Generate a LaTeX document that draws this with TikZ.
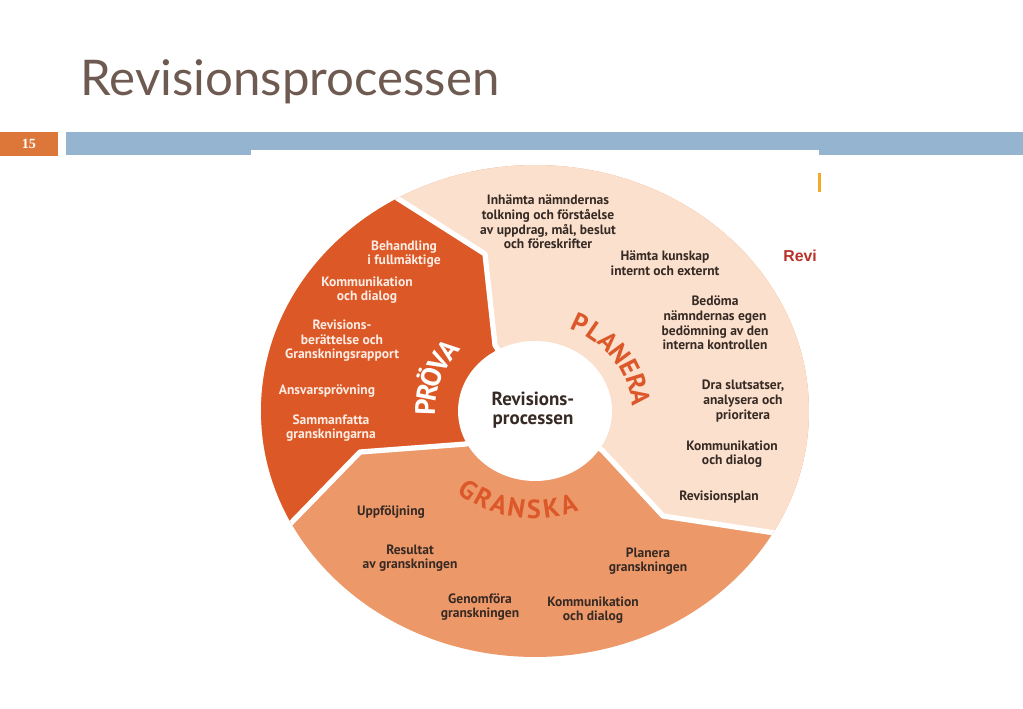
\documentclass[tikz,border=0pt]{standalone}
\usepackage{fontspec}
\setmainfont{Lato}
\newfontfamily\diag{PT Sans}
\newfontfamily\numfont{Liberation Serif}
\newfontfamily\arial{Liberation Sans}
\usepackage{tikz}
\usetikzlibrary{calc}
\definecolor{titlebrown}{RGB}{110,90,80}
\definecolor{numorange}{RGB}{221,119,57}
\definecolor{barblue}{RGB}{148,180,208}
\definecolor{prova}{RGB}{220,88,38}
\definecolor{granska}{RGB}{236,152,104}
\definecolor{planera}{RGB}{250,224,205}
\definecolor{lblred}{RGB}{220,88,42}
\definecolor{dark}{RGB}{55,42,36}
\definecolor{provatext}{RGB}{252,236,228}
\definecolor{revired}{RGB}{184,50,42}
\definecolor{tick}{RGB}{240,172,40}
\tikzstyle{txt}     = [align=center, inner sep=0pt, text=dark, font=\diag\bfseries\fontsize{7.7}{8.3}\selectfont]
\tikzstyle{wtxt}    = [txt, text=provatext]
\tikzstyle{divider} = [draw=white, line width=3pt, line join=round]
\tikzstyle{letter}  = [inner sep=0pt, anchor=base, text=lblred, font=\diag\bfseries\fontsize{15}{15}\selectfont]
\tikzstyle{wletter} = [letter, text=white, font=\diag\bfseries\fontsize{16}{16}\selectfont]

\begin{document}
\begin{tikzpicture}[x=0.02cm, y=0.02cm]
\useasboundingbox (0,0) rectangle (1023,708);

% header
\node [anchor=base west, inner sep=0pt, text=titlebrown, font=\fontsize{28}{28}\selectfont] at (80,613) (title) {Revisionsprocessen};
\fill [numorange] (0,552) rectangle (58,576);
\node [text=white, font=\numfont\bfseries\fontsize{8}{8}\selectfont] at (29,564) (num) {15};
\fill [barblue] (66,553) rectangle (1023,576);
\fill [white] (251,48) rectangle (819,558);
\fill [tick] (818,516) rectangle (820.5,535);
\node [anchor=base west, inner sep=0pt, text=revired, font=\arial\bfseries\fontsize{9}{9}\selectfont] at (783,447) (revi) {Revi};

% ring points
\coordinate (C)      at (535,297);
\coordinate (pvExt)  at (309,566);
\coordinate (pvTop)  at (397,510);
\coordinate (pvKink) at (485,454);
\coordinate (pvIn)   at (495,363);
\coordinate (gpIn)   at (466,264);
\coordinate (gpKink) at (360,256);
\coordinate (gpOut)  at (292,186);
\coordinate (gpExt)  at (224,116);
\coordinate (plIn)   at (602,258);
\coordinate (plKink) at (663,192);
\coordinate (plOut)  at (775,175);
\coordinate (plExt)  at (887,158);

% ring
\begin{scope}
\clip (C) ellipse [x radius=5.48cm, y radius=4.92cm];
\fill [granska] (150,40) rectangle (900,650);
\fill [prova]   (pvExt) -- (pvTop) -- (pvKink) -- (pvIn) -- (C) -- (gpIn) -- (gpKink) -- (gpOut) -- (gpExt) -- (150,116) -- (150,566) -- cycle;
\fill [planera] (pvExt) -- (pvTop) -- (pvKink) -- (pvIn) -- (C) -- (plIn) -- (plKink) -- (plOut) -- (plExt) -- (900,650) -- (309,650) -- cycle;
\draw [divider] (pvExt) -- (pvTop) -- (pvKink) -- (pvIn) -- (C);
\draw [divider] (C) -- (gpIn) -- (gpKink) -- (gpOut) -- (gpExt);
\draw [divider] (C) -- (plIn) -- (plKink) -- (plOut) -- (plExt);
\end{scope}
\fill [white] (C) ellipse [x radius=1.54cm, y radius=1.40cm];
\node [txt, font=\diag\bfseries\fontsize{10.8}{11}\selectfont] at (533,298) (centre) {Revisions-\\processen};

% segment names, letter by letter round the ring
\foreach \ch [count=\i] in {P,L,A,N,E,R,A} {
  \pgfmathsetmacro{\ang}{65-9.5*(\i-1)}
  \pgfmathsetmacro{\rot}{\ang-90}
  \node [letter, rotate=\rot] (pl\i) at ($(C)+(\ang:1.94cm and 1.75cm)$) {\ch};
}
\foreach \ch [count=\i] in {P,R,Ö,V,A} {
  \pgfmathsetmacro{\ang}{178-9*(\i-1)}
  \pgfmathsetmacro{\rot}{\ang-90}
  \node [wletter, rotate=\rot] (pv\i) at ($(C)+(\ang:2.0cm and 1.8cm)$) {\ch};
}
\foreach \ch [count=\i] in {G,R,A,N,S,K,A} {
  \pgfmathsetmacro{\ang}{233+9.1*(\i-1)}
  \pgfmathsetmacro{\rot}{\ang+90}
  \node [letter, rotate=\rot] (gr\i) at ($(C)+(\ang:2.39cm and 2.15cm)$) {\ch};
}

% pröva
\node [wtxt] at (404,454) (behandling)  {Behandling\\i fullmäktige};
\node [wtxt] at (367,418) (dialogPv)    {Kommunikation\\och dialog};
\node [wtxt] at (342,367) (berattelse)  {Revisions-\\berättelse och\\Granskningsrapport};
\node [wtxt] at (327,317) (ansvar)      {Ansvarsprövning};
\node [wtxt] at (331,280) (sammanfatta) {Sammanfatta\\granskningarna};

% planera
\node [txt]  at (548,486) (inhamta)     {Inhämta nämndernas\\tolkning och förståelse\\av uppdrag, mål, beslut\\och föreskrifter};
\node [txt]  at (665,445) (kunskap)     {Hämta kunskap\\internt och externt};
\node [txt]  at (715,385) (bedoma)      {Bedöma\\nämndernas egen\\bedömning av den\\interna kontrollen};
\node [txt]  at (743,307) (slutsatser)  {Dra slutsatser,\\analysera och\\prioritera};
\node [txt]  at (732,254) (dialogPl)    {Kommunikation\\och dialog};
\node [txt]  at (719,211) (revplan)     {Revisionsplan};

% granska
\node [txt]  at (391,196) (uppfoljning) {Uppföljning};
\node [txt]  at (410,150) (resultat)    {Resultat\\av granskningen};
\node [txt]  at (648,147) (planeraGr)   {Planera\\granskningen};
\node [txt]  at (480,101) (genomfora)   {Genomföra\\granskningen};
\node [txt]  at (593,98)  (dialogGr)    {Kommunikation\\och dialog};

\end{tikzpicture}
\end{document}
